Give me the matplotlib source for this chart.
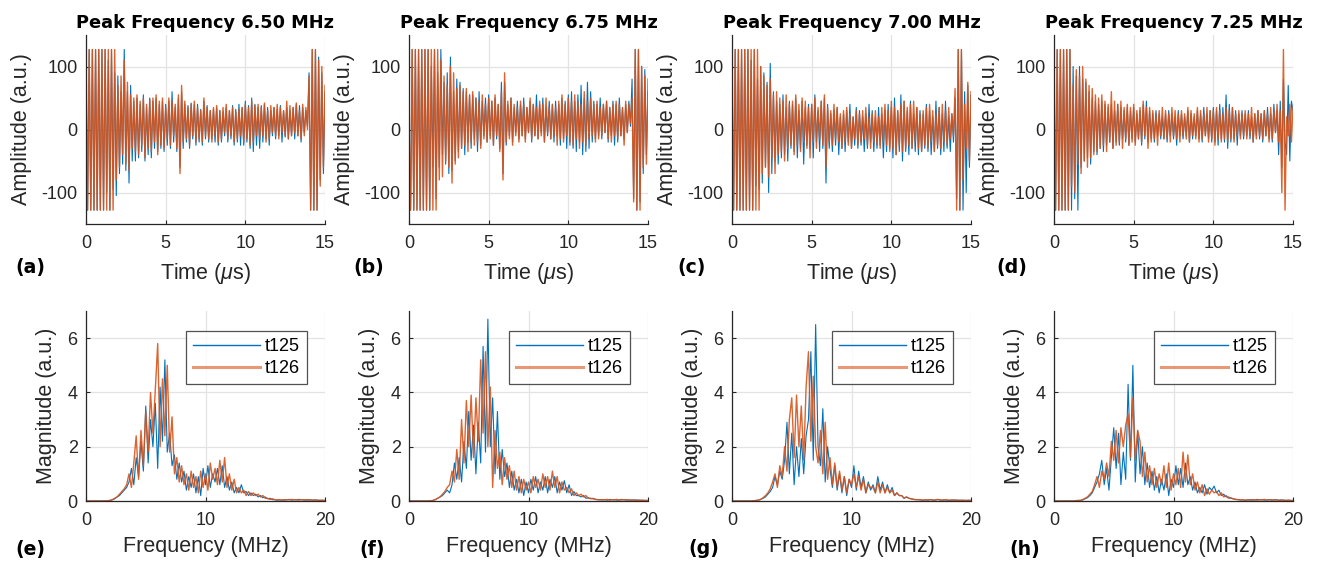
import numpy as np
import matplotlib
matplotlib.use("Agg")
import matplotlib.pyplot as plt

plt.rcParams['font.family'] = ['Liberation Sans', 'DejaVu Sans']
plt.rcParams['mathtext.fontset'] = 'custom'
plt.rcParams['mathtext.rm'] = 'Liberation Sans'
plt.rcParams['mathtext.it'] = 'Liberation Sans:italic'
plt.rcParams['axes.unicode_minus'] = False

# ---------------- data ----------------
titles = ["Peak Frequency 6.50 MHz", "Peak Frequency 6.75 MHz",
          "Peak Frequency 7.00 MHz", "Peak Frequency 7.25 MHz"]
top_labels = ["(a)", "(b)", "(c)", "(d)"]
bottom_labels = ["(e)", "(f)", "(g)", "(h)"]
series_names = ["t125", "t126"]

# time axis samples (µs): 0.0 ... 15.0 step 0.1
time_us = np.round(np.arange(0, 151) * 0.1, 2)
# frequency samples (MHz): 0.0 ... 20.0 step 0.2
freq_mhz = np.round(np.arange(0, 101) * 0.2, 2)

amp_a_t125 = [0,-128,127,-128,127,-128,127,-128,127,-128,
              127,-128,127,-100,110,-128,127,-95,90,-105,
              85,-70,60,-55,127,-65,60,-85,70,-50,
              45,-50,50,-45,40,-35,55,-50,35,-40,
              50,-45,45,-30,50,-35,40,-30,45,-35,
              40,-25,45,-30,60,-20,35,-35,50,-60,
              60,-30,40,-20,38,-30,42,-15,40,-25,
              40,-20,32,-25,45,-15,38,-20,30,-15,
              32,-20,35,-25,30,-20,28,-10,35,-20,
              30,-15,38,-25,32,-20,40,-25,35,-25,
              45,-20,38,-30,50,-35,40,-25,35,-30,
              38,-20,40,-15,35,-25,30,-10,35,-15,
              32,-10,38,-20,30,-12,35,-15,30,-10,
              35,-15,40,-10,38,-20,35,-5,30,5,
              90,-128,127,-128,127,-128,115,-80,90,-70,
              60]
amp_a_t126 = [127,-128,127,-128,127,-128,127,-128,127,-128,
              127,-128,127,-128,127,-128,127,-128,127,-80,
              70,-60,85,-40,110,-55,75,-65,55,-30,
              50,-35,55,-40,45,-25,50,-45,40,-30,
              48,-35,50,-20,55,-40,45,-25,50,-30,
              35,-15,50,-25,45,-10,40,-30,55,-70,
              70,-20,45,-15,35,-25,40,-10,45,-20,
              35,-15,30,-20,50,-10,35,-15,30,-20,
              35,-10,38,-20,30,-15,35,-5,40,-15,
              30,-10,35,-20,28,-15,32,-10,35,-20,
              40,-15,35,-25,45,-20,38,-10,40,-15,
              35,-10,42,-20,30,-15,38,-5,35,-10,
              40,-15,35,-5,30,-10,45,-15,38,-10,
              35,-5,42,-10,30,-15,40,-10,35,0,
              85,-128,127,-128,127,-128,110,-90,100,-60,
              70]
amp_b_t125 = [0,-128,127,-128,127,-128,127,-128,127,-128,
              127,-128,127,-128,100,-60,127,-110,90,-60,
              127,-40,75,-55,90,-70,115,-65,60,-50,
              80,-35,75,-30,65,-40,60,-20,55,-30,
              55,-15,50,-35,60,-25,45,-10,50,-20,
              55,-10,45,-25,50,-15,40,-30,75,-70,
              75,-25,40,-10,50,-20,35,-5,45,-15,
              40,-10,50,-15,35,-5,45,-20,40,-10,
              55,-15,40,-5,50,-20,35,-10,45,-15,
              40,-20,45,-10,40,-25,50,-15,45,-30,
              55,-25,60,-30,45,-35,55,-20,70,-40,
              50,-35,75,-30,60,-20,45,-15,40,-10,
              50,-15,40,-5,45,-20,35,-10,45,-25,
              40,-20,50,-10,35,-15,40,-5,45,5,
              80,-110,127,-128,127,-115,100,-70,95,-40,
              60]
amp_b_t126 = [10,-128,127,-128,127,-128,127,-128,127,-128,
              127,-128,127,-128,127,-128,127,-128,127,-80,
              110,-75,85,-50,70,-60,100,-85,90,-55,
              65,-45,70,-30,60,-25,65,-35,55,-20,
              60,-25,50,-20,45,-30,55,-15,40,-20,
              50,-15,45,-25,55,-10,40,-35,60,-80,
              90,-20,45,-15,50,-25,40,-10,35,-20,
              45,-10,40,-20,35,-5,50,-15,40,-10,
              35,-15,45,-10,40,-20,50,-5,35,-15,
              40,-10,35,-25,45,-15,55,-20,40,-10,
              50,-20,45,-25,55,-15,45,-30,40,-20,
              60,-25,45,-15,50,-10,40,-20,45,-15,
              35,-10,40,-5,45,-15,35,-20,40,-10,
              45,-15,40,-10,35,-25,45,-5,40,10,
              50,-115,127,-128,127,-128,100,-60,85,-55,
              80]
amp_c_t125 = [-10,-128,127,-128,127,-128,127,-128,127,-128,
              127,-128,110,-128,127,-90,80,-95,100,-85,
              90,-60,75,-100,105,-70,60,-50,45,-55,
              40,-45,55,-40,35,-50,45,-30,40,-35,
              50,-45,30,-30,45,-55,35,-25,40,-30,
              40,-45,55,-20,30,-35,45,-30,50,-85,
              40,-30,25,-35,30,-25,35,-40,20,-30,
              25,-35,30,-20,40,-30,20,-25,35,-30,
              30,-25,20,-35,25,-30,40,-20,30,-35,
              20,-30,35,-25,25,-45,30,-35,40,-30,
              35,-45,50,-40,30,-35,55,-50,45,-35,
              30,-40,45,-30,25,-35,35,-40,30,-35,
              25,-30,40,-35,30,-40,20,-35,45,-30,
              35,-40,25,-35,45,-30,20,-35,25,-20,
              50,-110,127,-128,127,-128,60,-100,70,-60,
              55]
amp_c_t126 = [127,-128,127,-128,127,-128,127,-128,127,-128,
              127,-128,127,-128,127,-128,127,-128,100,-70,
              85,-60,70,-75,80,-45,55,-70,60,-40,
              50,-35,45,-50,55,-30,40,-25,45,-40,
              55,-25,40,-35,50,-20,45,-30,35,-45,
              40,-20,50,-30,35,-15,45,-25,55,-60,
              35,-20,30,-25,40,-15,35,-20,25,-30,
              30,-20,35,-25,25,-30,20,-15,30,-25,
              25,-20,30,-15,35,-25,20,-30,25,-20,
              30,-25,20,-30,35,-20,40,-25,30,-35,
              45,-30,35,-40,30,-25,40,-35,45,-30,
              35,-25,40,-30,45,-20,35,-30,25,-35,
              30,-25,35,-30,40,-20,30,-35,25,-25,
              35,-30,40,-20,30,-25,35,-15,25,-10,
              65,-128,127,-128,127,-80,40,-30,75,-50,
              60]
amp_d_t125 = [0,-128,127,-128,127,-128,127,-128,127,-128,
              127,-128,100,-110,85,-128,100,-60,80,-50,
              75,-45,60,-55,50,-35,45,-40,40,-30,
              45,-35,40,-25,35,-20,40,-30,30,-20,
              40,-25,35,-15,30,-20,35,-25,30,-15,
              35,-20,25,-15,30,-25,40,-15,45,-20,
              30,-15,25,-20,30,-10,25,-15,20,-15,
              25,-20,30,-10,25,-15,20,-25,30,-10,
              25,-15,20,-10,30,-20,25,-15,20,-10,
              30,-15,25,-20,35,-10,25,-15,30,-20,
              35,-20,30,-25,40,-15,35,-20,55,-30,
              40,-20,35,-15,30,-25,25,-10,30,-15,
              25,-10,30,-15,20,-20,25,-10,30,-15,
              25,-20,30,-10,35,-15,25,-20,40,-5,
              30,-40,45,-60,80,-20,-40,70,-50,45,
              30]
amp_d_t126 = [127,-128,127,-128,127,-128,127,-128,127,-128,
              127,-90,70,-100,95,-55,85,-70,100,-50,
              80,-60,70,-45,65,-40,55,-35,50,-30,
              55,-25,45,-35,40,-20,60,-30,45,-25,
              40,-20,45,-30,35,-15,40,-25,35,-20,
              40,-25,30,-15,35,-20,45,-10,35,-30,
              35,-20,30,-15,25,-25,30,-10,35,-15,
              30,-15,25,-20,35,-10,30,-15,25,-20,
              30,-10,25,-15,35,-20,30,-10,25,-15,
              35,-20,30,-15,25,-10,35,-20,30,-15,
              30,-25,35,-15,30,-20,25,-15,35,-20,
              30,-15,35,-20,25,-10,30,-15,25,-10,
              30,-15,25,-10,35,-20,25,-15,30,-10,
              25,-15,30,-10,25,-20,35,-15,30,-5,
              40,-20,30,-100,127,-128,20,-10,40,-20,
              35]

mag_e_t125 = [0,0,0,0,0,0,0,0,0,0.01,0.02,
              0.04,0.08,0.15,0.2,0.3,
              0.4,0.5,0.7,1.2,0.6,
              1.6,0.9,2.2,1.1,3.5,
              1.4,3.0,2.0,3.6,1.2,
              4.2,2.2,5.2,1.8,2.5,
              1.3,1.7,0.8,1.4,0.7,
              1.1,0.4,0.9,0.5,1.0,
              0.3,0.9,0.2,1.2,0.6,
              1.3,0.5,1.0,0.7,1.2,
              0.6,1.3,0.5,0.9,0.4,
              0.7,0.3,0.5,0.3,0.6,
              0.3,0.35,0.2,0.3,0.2,
              0.25,0.15,0.2,0.12,0.15,
              0.08,0.1,0.05,0.05,0.03,
              0.04,0.03,0.05,0.04,0.06,0.03,0.05,0.04,0.06,0.05,
              0.04,0.03,0.05,0.04,0.03,0.04,0.03,0.02,0.03,0.02]
mag_e_t126 = [0,0,0,0,0,0,0,0,0,0.01,0.02,
              0.05,0.1,0.15,0.25,0.35,
              0.45,0.6,1.0,0.5,1.4,
              2.4,0.8,2.6,1.3,3.3,
              1.8,4.0,2.5,4.1,5.8,
              2.0,4.5,2.4,5.0,1.8,
              3.1,1.0,1.6,0.7,1.3,
              0.6,1.0,0.4,1.1,0.5,
              0.9,0.3,1.1,0.5,1.0,
              0.4,1.4,0.8,1.2,0.6,
              1.5,0.7,1.6,0.5,1.0,
              0.4,0.8,0.3,0.5,0.3,
              0.4,0.2,0.35,0.2,0.3,
              0.2,0.25,0.15,0.2,0.1,
              0.1,0.06,0.08,0.05,0.04,
              0.05,0.04,0.03,0.05,0.04,0.06,0.04,0.05,0.03,0.05,
              0.04,0.05,0.03,0.04,0.03,0.04,0.02,0.03,0.02,0.02]
mag_f_t125 = [0,0,0,0,0,0,0,0,0,0.01,0.02,
              0.05,0.1,0.15,0.2,0.3,
              0.4,0.3,0.6,1.4,0.8,
              1.6,0.7,2.2,1.2,3.3,
              1.5,2.8,1.0,2.9,1.4,
              5.7,1.8,6.7,2.0,3.8,
              1.0,3.3,0.8,1.9,0.9,
              1.4,0.5,1.1,0.4,0.8,
              0.3,0.8,0.2,0.7,0.3,
              0.8,0.4,0.9,0.3,0.7,
              0.4,0.9,0.3,0.8,0.5,
              0.9,0.3,0.7,0.4,0.75,
              0.3,0.6,0.2,0.35,0.2,
              0.2,0.15,0.2,0.1,0.12,
              0.08,0.1,0.06,0.05,0.05,
              0.04,0.05,0.03,0.06,0.04,0.05,0.03,0.04,0.06,0.04,
              0.05,0.03,0.04,0.03,0.04,0.03,0.02,0.03,0.02,0.02]
mag_f_t126 = [0,0,0,0,0,0,0,0,0,0.01,0.02,
              0.05,0.1,0.15,0.25,0.35,
              0.5,0.6,1.1,0.7,1.9,
              0.8,3.0,1.4,3.7,2.0,
              3.9,1.6,3.8,2.2,5.2,
              2.5,5.5,2.0,4.2,0.5,
              2.6,1.2,1.8,0.6,1.6,
              0.8,1.3,0.5,1.1,0.4,
              0.9,0.3,0.8,0.4,0.7,
              0.3,0.9,0.5,0.8,0.4,
              1.0,0.5,0.9,0.4,1.1,
              0.5,0.9,0.3,0.7,0.4,
              0.5,0.3,0.45,0.2,0.3,
              0.2,0.25,0.15,0.2,0.1,
              0.1,0.08,0.06,0.05,0.04,
              0.05,0.04,0.06,0.03,0.05,0.04,0.06,0.03,0.04,0.05,
              0.03,0.04,0.03,0.04,0.02,0.03,0.03,0.02,0.02,0.02]
mag_g_t125 = [0,0,0,0,0,0,0,0,0,0.01,0.02,
              0.03,0.06,0.1,0.15,0.25,
              0.35,0.5,0.9,0.6,1.1,
              0.8,1.5,2.9,1.0,2.5,
              0.6,2.0,0.9,2.3,1.0,
              2.4,3.0,5.5,1.5,6.5,
              2.0,1.3,3.4,0.7,2.0,
              1.2,0.5,1.3,0.4,1.0,
              0.3,0.9,0.2,0.8,0.5,
              1.3,0.4,1.1,0.5,0.9,
              0.3,0.7,0.4,0.6,0.3,
              0.9,0.4,0.7,0.3,0.6,
              0.3,0.5,0.2,0.3,0.2,
              0.2,0.1,0.15,0.1,0.08,
              0.06,0.05,0.05,0.04,0.03,
              0.04,0.03,0.05,0.04,0.03,0.05,0.04,0.03,0.04,0.03,
              0.02,0.03,0.04,0.03,0.02,0.03,0.02,0.02,0.03,0.02]
mag_g_t126 = [0,0,0,0,0,0,0,0,0,0.01,0.02,
              0.03,0.06,0.12,0.2,0.3,
              0.45,0.7,1.0,0.5,1.3,
              0.9,2.0,1.1,3.0,3.8,
              1.6,3.9,2.0,3.5,1.5,
              4.2,5.5,2.2,4.6,2.0,
              1.4,2.6,1.0,2.9,0.8,
              1.6,0.6,1.4,0.5,1.1,
              0.4,0.9,0.3,0.8,0.6,
              1.0,0.5,0.9,0.4,0.8,
              0.3,0.6,0.5,0.5,0.3,
              0.7,0.3,0.6,0.3,0.5,
              0.3,0.4,0.2,0.3,0.2,
              0.2,0.1,0.15,0.1,0.08,
              0.06,0.05,0.05,0.04,0.03,
              0.05,0.04,0.05,0.03,0.04,0.06,0.04,0.03,0.05,0.04,
              0.03,0.04,0.02,0.03,0.03,0.02,0.03,0.02,0.02,0.02]
mag_h_t125 = [0,0,0,0,0,0,0,0,0,0.01,0.02,
              0.02,0.04,0.08,0.12,0.2,
              0.3,0.5,0.7,1.0,1.5,
              0.6,1.2,0.4,1.6,2.7,
              1.2,2.5,0.6,1.8,0.8,
              4.3,1.5,5.0,0.7,2.6,
              1.0,2.0,0.6,1.4,0.5,
              1.1,0.4,0.9,0.3,0.8,
              0.4,1.0,0.2,0.8,0.5,
              1.3,0.6,1.2,0.5,1.4,
              0.6,0.9,0.4,0.7,0.3,
              0.5,0.3,0.6,0.25,0.5,
              0.4,0.55,0.3,0.4,0.2,
              0.25,0.15,0.15,0.1,0.08,
              0.06,0.05,0.04,0.04,0.03,
              0.04,0.05,0.03,0.04,0.06,0.04,0.05,0.03,0.04,0.05,
              0.03,0.04,0.05,0.03,0.04,0.03,0.02,0.03,0.02,0.02]
mag_h_t126 = [0,0,0,0,0,0,0,0,0,0.01,0.02,
              0.02,0.05,0.1,0.15,0.25,
              0.35,0.6,0.9,0.5,1.1,
              0.8,1.4,0.9,2.2,1.5,
              2.6,1.4,2.7,2.0,2.8,
              3.2,1.6,3.8,1.5,2.6,
              2.2,0.9,1.8,0.7,1.3,
              0.6,1.2,0.5,1.0,0.6,
              1.3,0.5,1.4,0.4,1.0,
              0.6,1.2,0.5,1.8,0.7,
              1.7,0.6,1.0,0.4,0.7,
              0.3,0.6,0.2,0.45,0.25,
              0.4,0.3,0.35,0.2,0.3,
              0.15,0.2,0.1,0.12,0.08,
              0.06,0.05,0.04,0.04,0.03,
              0.04,0.03,0.05,0.04,0.03,0.05,0.04,0.06,0.03,0.04,
              0.05,0.03,0.04,0.02,0.03,0.03,0.02,0.03,0.02,0.02]

amp_t125 = [amp_a_t125, amp_b_t125, amp_c_t125, amp_d_t125]
amp_t126 = [amp_a_t126, amp_b_t126, amp_c_t126, amp_d_t126]
mag_t125 = [mag_e_t125, mag_f_t125, mag_g_t125, mag_h_t125]
mag_t126 = [mag_e_t126, mag_f_t126, mag_g_t126, mag_h_t126]

# ---------------- style ----------------
BLUE = '#0072BD'
ORANGE = '#D95319'
DARK = '#262626'
GRID = '#E3E3E3'
BOLD_FONT = ['DejaVu Sans']

W, H = 1320, 562
fig = plt.figure(figsize=(W / 100, H / 100), dpi=100)

col_left_px = [86, 409, 732, 1054]
ax_w_px = 239
top_row = (35, 224)      # top, bottom pixel
bot_row = (311, 501)
top_lab_x = [15, 353, 677, 996]
bot_lab_x = [15, 359, 688, 1009]

TICK_FS = 13
LABEL_FS = 15.5


def style_axes(ax):
    for s in ['top', 'right']:
        ax.spines[s].set_visible(False)
    for s in ['left', 'bottom']:
        ax.spines[s].set_color(DARK)
        ax.spines[s].set_linewidth(0.9)
    ax.grid(True, color=GRID, linewidth=0.9)
    ax.set_axisbelow(True)
    ax.tick_params(direction='in', length=3, width=0.8, colors=DARK,
                   labelsize=TICK_FS, labelcolor=DARK)
    ax.tick_params(axis='x', pad=8)
    ax.tick_params(axis='y', pad=6)


for i in range(4):
    l = col_left_px[i] / W
    w = ax_w_px / W
    # top row
    t, b = top_row
    ax = fig.add_axes([l, 1 - b / H, w, (b - t) / H])
    ax.plot(time_us, amp_t125[i], color=BLUE, lw=0.8)
    ax.plot(time_us, amp_t126[i], color=ORANGE, lw=1.0, alpha=0.9)
    ax.set_xlim(0, 15)
    ax.set_ylim(-150, 150)
    ax.set_xticks([0, 5, 10, 15])
    ax.set_yticks([-100, 0, 100])
    style_axes(ax)
    ax.set_title(titles[i], fontsize=12.8, fontweight='bold', pad=5,
                 color='black', family=BOLD_FONT)
    ax.set_xlabel(r'Time ($\mu$s)', fontsize=LABEL_FS, color=DARK)
    ax.set_ylabel('Amplitude (a.u.)', fontsize=LABEL_FS, color=DARK)
    ax.xaxis.set_label_coords(0.5, (b - 261) / (b - t))
    ax.yaxis.set_label_coords(-54 / ax_w_px, 0.5)
    fig.text(top_lab_x[i] / W, 1 - 268 / H, top_labels[i], fontsize=13.6,
             fontweight='bold', ha='left', va='center', family=BOLD_FONT)

    # bottom row
    t, b = bot_row
    ax2 = fig.add_axes([l, 1 - b / H, w, (b - t) / H])
    ax2.plot(freq_mhz, mag_t125[i], color=BLUE, lw=0.8, label=series_names[0])
    ax2.plot(freq_mhz, mag_t126[i], color=ORANGE, lw=1.0, alpha=0.9,
             label=series_names[1])
    ax2.set_xlim(0, 20)
    ax2.set_ylim(0, 7)
    ax2.set_xticks([0, 10, 20])
    ax2.set_yticks([0, 2, 4, 6])
    style_axes(ax2)
    ax2.set_xlabel('Frequency (MHz)', fontsize=LABEL_FS, color=DARK)
    ax2.set_ylabel('Magnitude (a.u.)', fontsize=LABEL_FS, color=DARK)
    ax2.xaxis.set_label_coords(0.5, (b - 536) / (b - t))
    ax2.yaxis.set_label_coords(-29 / ax_w_px, 0.5)
    leg = ax2.legend(loc='upper right', bbox_to_anchor=(0.925, 0.895),
                     fontsize=13, frameon=True, fancybox=False,
                     edgecolor=DARK, handlelength=3.7, handletextpad=0.25,
                     borderpad=0.4, labelspacing=0.28, borderaxespad=0)
    leg.get_frame().set_linewidth(0.9)
    lines = leg.get_lines()
    lines[0].set_linewidth(1.0)
    lines[1].set_linewidth(2.2)
    lines[1].set_alpha(0.6)
    fig.text(bot_lab_x[i] / W, 1 - 549 / H, bottom_labels[i], fontsize=13.6,
             fontweight='bold', ha='left', va='center', family=BOLD_FONT)

fig.savefig('out.png', dpi=100, facecolor='white')
